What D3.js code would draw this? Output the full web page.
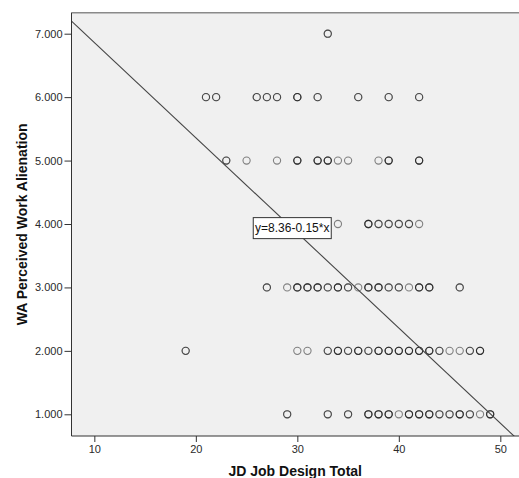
<!DOCTYPE html>
<html>
<head>
<meta charset="utf-8">
<script src="https://cdn.jsdelivr.net/npm/d3@7"></script>
<style>
  body { margin: 0; background: #fff; }
  svg { display: block; font-family: "Liberation Sans", Arial, sans-serif; }
</style>
</head>
<body>
<svg id="chart" width="519" height="478"></svg>
<script>
// points per WA level: [JD score, overlap count]
var wa1 = [[29,2],[33,2],[35,2],[37,3],[38,3],[39,3],[40,1],[41,3],[42,3],[43,3],[44,2],[45,2],[46,3],[47,2],[48,1],[49,3]];
var wa2 = [[19,2],[30,1],[31,1],[33,2],[34,3],[35,2],[36,3],[37,2],[38,3],[39,3],[40,3],[41,3],[42,3],[43,3],[44,2],[45,1],[46,1],[47,2],[48,3]];
var wa3 = [[27,2],[29,1],[30,3],[31,3],[32,3],[33,2],[34,3],[35,2],[36,1],[37,3],[38,3],[39,2],[40,2],[41,1],[42,3],[43,3],[46,2]];
var wa4 = [[34,1],[37,3],[38,2],[39,2],[40,2],[41,2],[42,1]];
var wa5 = [[23,2],[25,1],[28,1],[30,3],[32,3],[33,3],[34,1],[35,1],[38,1],[39,3],[42,3]];
var wa6 = [[21,2],[22,2],[26,2],[27,2],[28,2],[30,3],[32,2],[36,2],[39,2],[42,2]];
var wa7 = [[33,2]];
var waRows = [wa1, wa2, wa3, wa4, wa5, wa6, wa7];

var xTicks = [10, 20, 30, 40, 50];
var yTicks = [1, 2, 3, 4, 5, 6, 7];
var fitA = 8.36, fitB = -0.15;
var fitLabel = "y=8.36-0.15*x";
var xTitle = "JD Job Design Total";
var yTitle = "WA Perceived Work Alienation";

var svg = d3.select("#chart");
var plotLeft = 71.5, plotTop = 12.7, plotRight = 519, plotBottom = 436;

var x = d3.scaleLinear().domain([7.75, 51.84]).range([plotLeft, plotRight]);
var y = d3.scaleLinear().domain([0.658, 7.331]).range([plotBottom, plotTop]);

// plot background
svg.append("rect")
  .attr("x", plotLeft).attr("y", plotTop)
  .attr("width", plotRight - plotLeft).attr("height", plotBottom - plotTop)
  .attr("fill", "#f0f0f0");
svg.append("line")
  .attr("x1", plotLeft).attr("x2", plotRight)
  .attr("y1", plotTop).attr("y2", plotTop)
  .attr("stroke", "#8a8a8a").attr("stroke-width", 1.5);

svg.append("clipPath").attr("id", "plotclip")
  .append("rect")
  .attr("x", plotLeft).attr("y", plotTop)
  .attr("width", plotRight - plotLeft).attr("height", plotBottom - plotTop);

// flatten rows into one point per observation
var pts = [];
waRows.forEach(function (row, i) {
  row.forEach(function (p) {
    for (var k = 0; k < p[1]; k++) pts.push({ jd: p[0], wa: yTicks[i] });
  });
});

svg.append("g")
  .selectAll("circle")
  .data(pts)
  .enter()
  .append("circle")
  .attr("cx", function (d) { return x(d.jd); })
  .attr("cy", function (d) { return y(d.wa); })
  .attr("r", 3.6)
  .attr("fill", "none")
  .attr("stroke", "#111")
  .attr("stroke-opacity", 0.5)
  .attr("stroke-width", 1.1);

// fit line
var xd = x.domain();
svg.append("line")
  .attr("clip-path", "url(#plotclip)")
  .attr("x1", x(xd[0])).attr("y1", y(fitA + fitB * xd[0]))
  .attr("x2", x(xd[1])).attr("y2", y(fitA + fitB * xd[1]))
  .attr("stroke", "#444").attr("stroke-width", 1.1);

// axes
var yAxis = d3.axisLeft(y).tickValues(yTicks).tickFormat(d3.format(".3f"))
  .tickSize(7).tickPadding(2);
var xAxis = d3.axisBottom(x).tickValues(xTicks).tickFormat(d3.format("d"))
  .tickSize(6).tickPadding(3);

var gy = svg.append("g").attr("transform", "translate(" + plotLeft + ",0)").call(yAxis);
var gx = svg.append("g").attr("transform", "translate(0," + plotBottom + ")").call(xAxis);
gx.select(".domain").attr("d", "M" + plotLeft + ",0H" + plotRight);
gy.select(".domain").attr("d", "M0," + plotTop + "V" + plotBottom);
[gx, gy].forEach(function (g) {
  g.select(".domain").attr("stroke", "#333");
  g.selectAll(".tick line").attr("stroke", "#333");
  g.selectAll("text").attr("fill", "#2a2a2a")
    .style("font-size", "11px").style("font-family", "'Liberation Sans', Arial, sans-serif");
});

// fit label box
var lx = x(29.5), ly = y(fitA + fitB * 29.5);
var lab = svg.append("g").attr("transform", "translate(" + lx + "," + ly + ")");
lab.append("rect")
  .attr("x", -39).attr("y", -10.5).attr("width", 78).attr("height", 21)
  .attr("fill", "#fff").attr("stroke", "#333").attr("stroke-width", 1);
lab.append("text")
  .attr("text-anchor", "middle").attr("dy", "0.36em")
  .style("font-size", "12px").attr("fill", "#111")
  .text(fitLabel);

// titles
svg.append("text")
  .attr("x", (plotLeft + plotRight) / 2).attr("y", 476)
  .attr("text-anchor", "middle")
  .style("font-size", "14px").style("font-weight", "bold").attr("fill", "#111")
  .text(xTitle);
svg.append("text")
  .attr("transform", "translate(26.5," + (plotTop + plotBottom) / 2 + ") rotate(-90)")
  .attr("text-anchor", "middle")
  .style("font-size", "14px").style("font-weight", "bold").attr("fill", "#111")
  .text(yTitle);
</script>
</body>
</html>
